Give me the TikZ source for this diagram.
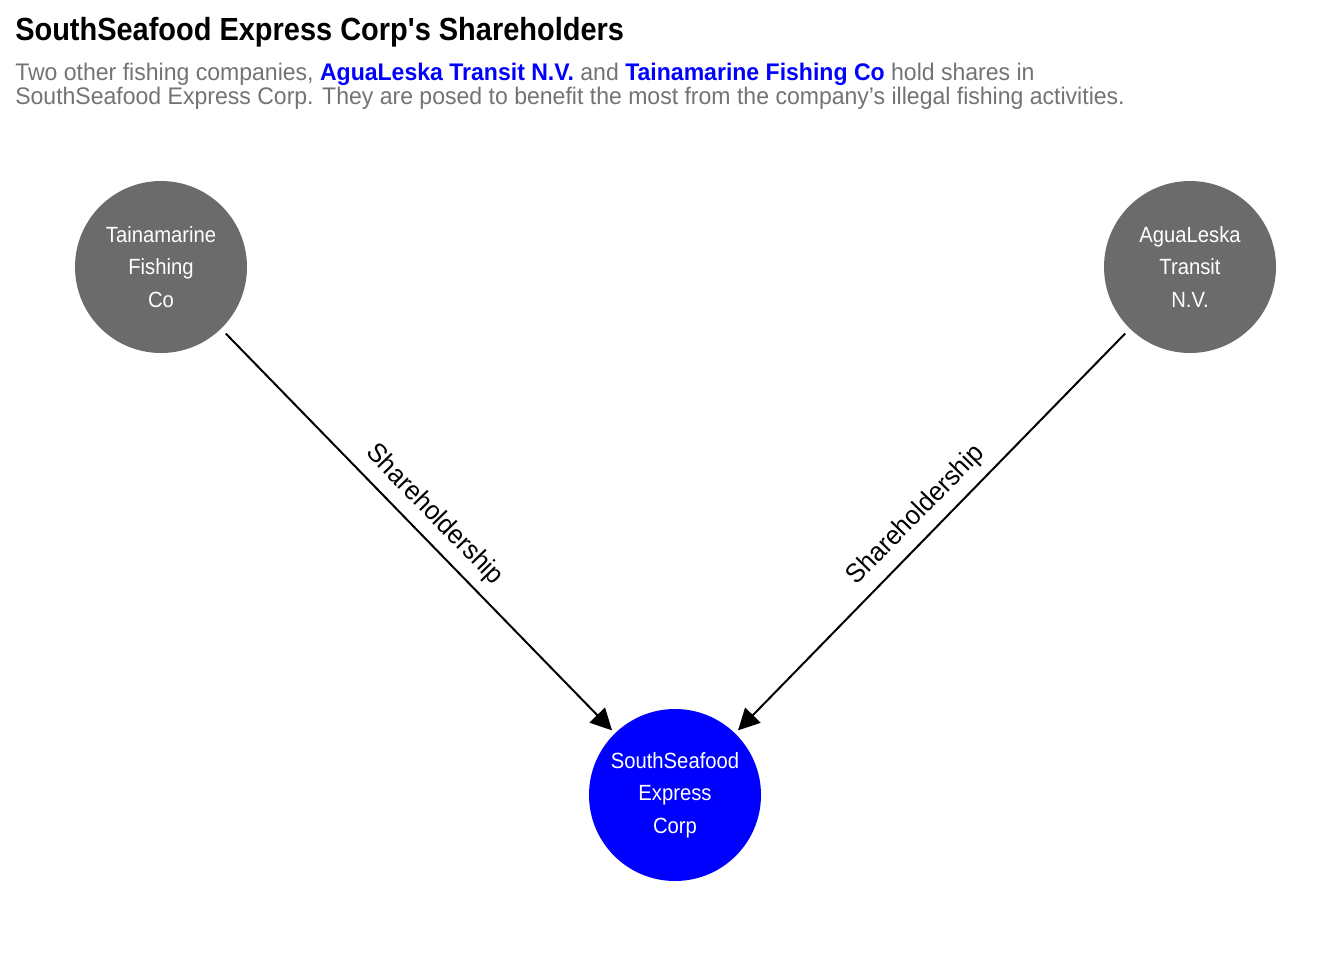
\documentclass[tikz,border=0pt]{standalone}
\usepackage{fontspec}
\setmainfont{Liberation Sans}[FakeStretch=0.86]
\newfontfamily\titlefont{Liberation Sans}[FakeStretch=0.905]
\newfontfamily\subfont{Liberation Sans}[FakeStretch=0.96]
\newfontfamily\nodefont{Liberation Sans}[FakeStretch=0.92]
\newfontfamily\labelfont{Liberation Sans}[FakeStretch=0.95]
\usetikzlibrary{arrows.meta}
\definecolor{nodegray}{HTML}{6B6B6B}
\definecolor{subgray}{HTML}{737373}
\definecolor{pureblue}{HTML}{0000FF}
\begin{document}
\begin{tikzpicture}[x=0.75pt,y=-0.75pt,
  entity/.style={circle,fill=nodegray,minimum size=129pt,inner sep=0pt,text=white,align=center,
    font=\nodefont\fontsize{16.5pt}{24.4pt}\selectfont},
  target/.style={entity,fill=pureblue},
  link/.style={draw=black,line width=1.5pt,-{Triangle[length=16pt,width=16pt]},shorten >=3pt,shorten <=5pt},
  linklabel/.style={midway,sloped,above=7pt,inner sep=0pt,font=\labelfont\fontsize{20pt}{22pt}\selectfont},
  titletext/.style={anchor=base west,inner sep=0pt,font=\titlefont\fontsize{24pt}{28pt}\selectfont\bfseries},
  subtext/.style={anchor=base west,inner sep=0pt,text=subgray,font=\subfont\fontsize{18pt}{18pt}\selectfont}]
\useasboundingbox (0,0) rectangle (1344,960);
\node[titletext] (title) at (15,40) {SouthSeafood Express Corp's Shareholders};
\node[subtext] (sub1) at (15,80) {Two other fishing companies, \textcolor{pureblue}{\bfseries AguaLeska Transit N.V.} and \textcolor{pureblue}{\bfseries Tainamarine Fishing Co} hold shares in};
\node[subtext] (sub2) at (15,104) {SouthSeafood Express Corp. They are posed to benefit the most from the company’s illegal fishing activities.};
\node[entity] (tai) at (161,267) {Tainamarine\\Fishing\\Co};
\node[entity] (agua) at (1190,267) {AguaLeska\\Transit\\N.V.};
\node[target] (ssx) at (675,795) {SouthSeafood\\Express\\Corp};
\draw[link] (tai) -- node[linklabel] (l1) {Shareholdership} (ssx);
\draw[link] (agua) -- node[linklabel] (l2) {Shareholdership} (ssx);
\end{tikzpicture}
\end{document}
